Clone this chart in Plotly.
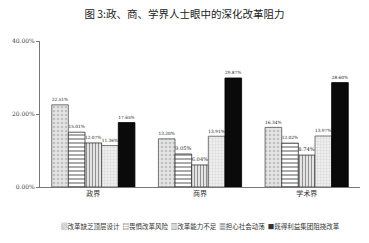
import plotly.graph_objects as go

categories = ["政界", "商界", "学术界"]
series_names = ["改革缺乏顶层设计", "畏惧改革风险", "改革能力不足", "担心社会动荡", "既得利益集团阻挠改革"]
legend_marks = ["▒", "▤", "▥", "▦", "■"]
s1 = [22.51, 13.20, 16.34]
s2 = [15.01, 9.05, 12.02]
s3 = [12.07, 6.04, 8.74]
s4 = [11.36, 13.91, 13.97]
s5 = [17.65, 29.87, 28.60]
y_ticks = [0, 20, 40]
y_tick_labels = ["0.00%", "20.00%", "40.00%"]

series = [s1, s2, s3, s4, s5]
styles = [
    dict(color="#e4e4e4", line=dict(color="#555", width=0.8), pattern=dict(shape=".", fgcolor="#999", size=4, solidity=0.3)),
    dict(color="white", line=dict(color="#333", width=0.8), pattern=dict(shape="-", fgcolor="#444", size=4, solidity=0.45)),
    dict(color="white", line=dict(color="#333", width=0.8), pattern=dict(shape="|", fgcolor="#222", size=3, solidity=0.5)),
    dict(color="#eeeeee", line=dict(color="#555", width=0.8), pattern=dict(shape="+", fgcolor="#aaa", size=3, solidity=0.2)),
    dict(color="#0a0a0a", line=dict(color="#000", width=0.8)),
]

fig = go.Figure()
for name, vals, st in zip(series_names, series, styles):
    fig.add_trace(go.Bar(
        x=categories, y=vals, name=name, marker=st,
        text=[f"{v:.2f}%" for v in vals], textposition="outside",
        textfont=dict(size=6, family="DejaVu Serif", color="#222"),
        cliponaxis=False, showlegend=False,
    ))

legend_text = "  ".join(f"{m}{n}" for m, n in zip(legend_marks, series_names))
fig.add_annotation(text=legend_text, xref="paper", yref="paper", x=0.5, y=-0.22,
                   xanchor="center", yanchor="top", showarrow=False,
                   font=dict(size=6.5, family="Noto Sans CJK SC", color="#333"))

fig.update_layout(
    width=369, height=243,
    margin=dict(l=40, r=9, t=41, b=56),
    paper_bgcolor="white", plot_bgcolor="white",
    barmode="group", bargap=0.22, bargroupgap=0.0,
    title=dict(text="图 3:政、商、学界人士眼中的深化改革阻力", x=0.5, xanchor="center",
               y=0.94, yanchor="middle",
               font=dict(size=10.5, family="Noto Sans CJK SC", color="#222")),
    font=dict(family="Noto Sans CJK SC"),
)
fig.update_yaxes(range=[0, 40], tickvals=y_ticks, ticktext=y_tick_labels,
                 showgrid=False, showline=True, linecolor="#777", linewidth=1,
                 ticks="outside", ticklen=3, tickcolor="#777",
                 tickfont=dict(size=6, family="DejaVu Serif", color="#444"), zeroline=False)
fig.update_xaxes(showgrid=False, showline=True, linecolor="#777", linewidth=1,
                 ticks="", tickfont=dict(size=7, family="Noto Sans CJK SC", color="#333"))

fig.write_html("out.html")
